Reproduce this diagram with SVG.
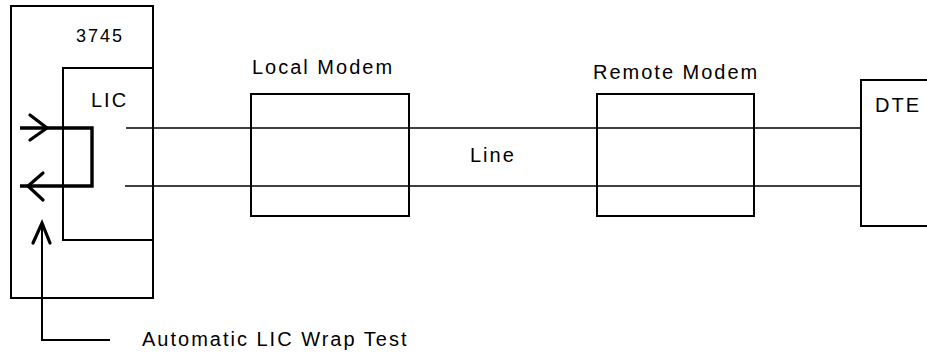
<svg xmlns="http://www.w3.org/2000/svg" width="927" height="356" viewBox="0 0 927 356">
<style>
.box{fill:none;stroke:#000;stroke-width:2}
.ln{fill:none;stroke:#000;stroke-width:1.6}
.thick{fill:none;stroke:#000;stroke-width:3.4;stroke-linejoin:miter}
.arr{fill:none;stroke:#000;stroke-width:3.2;stroke-linecap:round}
text{font-family:"Liberation Sans",Arial,sans-serif;font-size:20px;letter-spacing:2px;fill:#000}
</style>
<rect width="927" height="356" fill="#fff"/>
<g id="n3745">
<rect class="box" x="11" y="6" width="142" height="292"/>
<text x="76" y="42" style="font-size:18px">3745</text>
</g>
<g id="lic">
<polyline class="box" points="153,68 63,68 63,240 153,240"/>
<text x="91" y="107">LIC</text>
</g>
<g id="localModem">
<rect class="box" x="251" y="94" width="158" height="122"/>
<text x="252" y="74">Local Modem</text>
</g>
<g id="remoteModem">
<rect class="box" x="597" y="94" width="157" height="122"/>
<text x="593" y="79">Remote Modem</text>
</g>
<g id="dte">
<polyline class="box" points="930,80 861,80 861,226 930,226"/>
<text x="875" y="112">DTE</text>
</g>
<g id="connectors">
<line class="ln" x1="126" y1="128" x2="861" y2="128"/>
<line class="ln" x1="125" y1="186" x2="861" y2="186"/>
<text x="470" y="162">Line</text>
<path class="thick" d="M20,128 H92 V186 H20"/>
<polyline class="arr" points="30,115 47,128 30,140"/>
<polyline class="arr" points="43,173 28,186 43,200"/>
<polyline class="ln" style="stroke-width:2" points="42,224 42,340 110,340"/>
<polyline class="arr" points="33,243 42,223 50,243"/>
<text x="142" y="346">Automatic LIC Wrap Test</text>
</g>
</svg>
